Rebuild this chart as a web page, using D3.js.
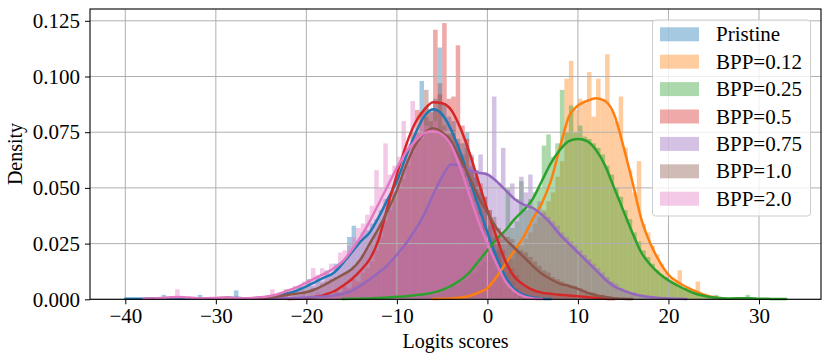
<!DOCTYPE html>
<html>
<head>
<meta charset="utf-8">
<script src="https://cdn.jsdelivr.net/npm/d3@7"></script>
<style>
  body { margin: 0; background: #fff; }
  svg text { font-family: "Liberation Serif", "Times New Roman", serif; fill: #000; }
</style>
</head>
<body>
<svg id="chart"></svg>
<script>
// series
const seriesNames = ["Pristine", "BPP=0.12", "BPP=0.25", "BPP=0.5", "BPP=0.75", "BPP=1.0", "BPP=2.0"];
const seriesColors = ["#1f77b4", "#ff7f0e", "#2ca02c", "#d62728", "#9467bd", "#8c564b", "#e377c2"];

const xTicks = [-40, -30, -20, -10, 0, 10, 20, 30];
const yTicks = [0, 0.025, 0.05, 0.075, 0.1, 0.125];

// histogram densities, bins of 0.5 starting at histStart
const binWidth = 0.5;
const histStart = [-40, -6, -16, -22, -28, -30, -36];
const histPristine = [
  0.0005,0,0,0,0,0,0,0,0.002,0,
  0,0,0,0,0,0,0.002,0,0,0,
  0,0,0,0,0.004,0,0,0,0,0,
  0,0.001,0,0.002,0.002,0.003,0,0.004,0.006,0.005,
  0.009,0.006,0.010,0.008,0.013,0.011,0.016,0.015,0.017,0.028,
  0.033,0.026,0.030,0.031,0.034,0.036,0.040,0.045,0.042,0.049,
  0.052,0.058,0.063,0.070,0.075,0.098,0.082,0.085,0.090,0.113,
  0.088,0.082,0.080,0.072,0.070,0.075,0.060,0.055,0.048,0.040,
  0.033,0.028,0.022,0.016,0.012,0.008,0.005,0.003,0.002,0.001,0.0005,0];
const hist012 = [
  0,0,0,0.0005,0,0.001,0,0.001,0.002,0.002,
  0.003,0.004,0.005,0.007,0.010,0.012,0.015,0.018,0.021,0.024,
  0.027,0.030,0.034,0.037,0.040,0.044,0.048,0.055,0.062,0.099,
  0.107,0.085,0.090,0.088,0.102,0.082,0.099,0.090,0.110,0.085,
  0.080,0.091,0.068,0.058,0.048,0.062,0.034,0.030,0.024,0.020,
  0.016,0.012,0.010,0.008,0.013,0.005,0.004,0.003,0.008,0.002,
  0.001,0.001,0.0005,0];
const hist025 = [
  0,0.0005,0,0,0,0.0005,0,0,0,0.001,
  0,0.001,0,0.001,0.001,0.002,0.001,0.002,0.002,0.003,
  0.002,0.003,0.004,0.004,0.006,0.006,0.008,0.009,0.011,0.012,
  0.015,0.017,0.020,0.022,0.025,0.027,0.050,0.032,0.035,0.053,
  0.040,0.045,0.048,0.050,0.069,0.074,0.064,0.070,0.094,0.075,
  0.087,0.075,0.078,0.073,0.072,0.070,0.068,0.065,0.060,0.056,
  0.050,0.046,0.040,0.036,0.030,0.026,0.022,0.019,0.016,0.013,
  0.011,0.010,0.008,0.007,0.006,0.005,0.004,0.003,0.002,0.002,
  0.001,0.001,0.002,0.001,0.0005,0,0.001,0,0,0.002,
  0.0005,0,0,0,0,0,0,0.0005,0,0];
const hist05 = [
  0,0,0,0,0.001,0,0.002,0.001,0.003,0.002,
  0.004,0.003,0.006,0.005,0.009,0.008,0.012,0.014,0.017,0.022,
  0.028,0.035,0.040,0.048,0.055,0.062,0.068,0.075,0.085,0.084,
  0.086,0.084,0.121,0.092,0.124,0.090,0.091,0.114,0.078,0.072,
  0.064,0.058,0.052,0.046,0.040,0.034,0.028,0.022,0.018,0.014,
  0.011,0.008,0.006,0.005,0.004,0.003,0.003,0.002,0.002,0.002,
  0.002,0.001,0.002,0.001,0.001,0.001,0.001,0,0.001,0,0,0];
const hist075 = [
  0,0,0,0,0,0.0005,0,0.001,0,0.001,
  0.001,0,0.001,0.001,0.001,0.002,0.001,0.002,0.003,0.002,
  0.003,0.002,0.004,0.003,0.005,0.004,0.006,0.007,0.006,0.008,
  0.009,0.011,0.012,0.014,0.016,0.018,0.020,0.023,0.025,0.028,
  0.031,0.035,0.040,0.044,0.048,0.053,0.057,0.060,0.066,0.060,
  0.062,0.058,0.065,0.058,0.065,0.057,0.055,0.091,0.052,0.068,
  0.049,0.052,0.045,0.055,0.048,0.056,0.040,0.044,0.039,0.037,
  0.035,0.033,0.030,0.028,0.026,0.024,0.022,0.020,0.018,0.016,
  0.014,0.012,0.010,0.008,0.007,0.005,0.004,0.003,0.003,0.002,
  0.002,0.001,0.001,0.001,0.0005,0,0.0005,0,0,0];
const hist10 = [
  0,0,0.0015,0,0,0,0,0,0,0,
  0,0,0.002,0.001,0.002,0.0045,0.002,0.003,0.003,0.004,
  0.004,0.005,0.005,0.007,0.008,0.009,0.010,0.011,0.012,0.013,
  0.015,0.017,0.020,0.023,0.026,0.030,0.034,0.038,0.043,0.047,
  0.050,0.054,0.060,0.066,0.070,0.072,0.094,0.080,0.085,0.097,
  0.078,0.074,0.076,0.070,0.065,0.068,0.058,0.055,0.050,0.046,
  0.040,0.037,0.032,0.030,0.028,0.027,0.024,0.022,0.021,0.019,
  0.017,0.015,0.013,0.012,0.010,0.009,0.008,0.007,0.006,0.006,
  0.005,0.004,0.003,0.003,0.002,0.002,0.001,0.001,0.001,0.0005,0,0];
const hist20 = [
  0,0,0,0.0045,0,0,0,0,0,0,
  0,0,0,0.0015,0,0,0,0,0,0,
  0,0,0,0,0.0045,0.001,0.002,0.003,0.004,0.006,
  0.006,0.008,0.009,0.014,0.011,0.014,0.012,0.016,0.015,0.021,
  0.022,0.024,0.028,0.032,0.034,0.038,0.042,0.058,0.050,0.070,
  0.056,0.060,0.064,0.080,0.070,0.089,0.074,0.080,0.078,0.077,
  0.080,0.074,0.076,0.070,0.068,0.064,0.060,0.055,0.050,0.044,
  0.038,0.031,0.026,0.020,0.015,0.010,0.007,0.004,0.002,0.001,
  0.0005,0,0.0005,0];

// kde curves, one value per unit starting at kdeStart
const kdeStart = [-40, -6, -16, -22, -28, -31, -38];
const kdePristine = [
  0.0003,0.0003,0.0003,0.0004,0.0005,0.0005,0.0004,0.0004,0.0005,0.0004,
  0.0004,0.0005,0.0006,0.0005,0.0005,0.0007,0.0012,0.0018,0.0027,0.004,
  0.0058,0.0078,0.0098,0.0118,0.016,0.021,0.026,0.030,0.037,0.045,
  0.053,0.064,0.074,0.082,0.0853,0.083,0.076,0.066,0.054,0.042,
  0.030,0.019,0.010,0.0045,0.002,0.0008,0.0003,0.0001];
const kde012 = [
  0.0001,0.0002,0.0004,0.0007,0.0015,0.003,0.005,0.010,0.016,0.022,
  0.028,0.036,0.043,0.053,0.068,0.082,0.087,0.089,0.0902,0.089,
  0.083,0.069,0.053,0.036,0.025,0.017,0.011,0.0078,0.0055,0.0036,
  0.002,0.0009,0.0003];
const kde025 = [
  0.0001,0.0002,0.0003,0.0004,0.0006,0.0008,0.0011,0.0014,0.0018,0.0023,
  0.003,0.0042,0.006,0.0085,0.012,0.017,0.022,0.027,0.031,0.036,
  0.040,0.045,0.053,0.061,0.067,0.071,0.072,0.071,0.067,0.060,
  0.050,0.040,0.030,0.021,0.0155,0.0115,0.0085,0.0062,0.0042,0.0025,
  0.0015,0.0008,0.0005,0.0004,0.0005,0.0005,0.0003,0.0002,0.0001,0.0001];
const kde05 = [
  0.0001,0.0002,0.0004,0.001,0.002,0.0035,0.006,0.009,0.013,0.018,
  0.027,0.042,0.056,0.069,0.079,0.085,0.0885,0.088,0.085,0.077,
  0.066,0.053,0.040,0.028,0.017,0.010,0.0065,0.0042,0.003,0.0025,
  0.002,0.0017,0.0014,0.001,0.0006,0.0003,0.0001];
const kde075 = [
  0.0002,0.0002,0.0002,0.0003,0.0003,0.0004,0.0005,0.0006,0.0008,0.001,
  0.0013,0.0017,0.0025,0.0038,0.0062,0.009,0.012,0.0155,0.020,0.025,
  0.031,0.038,0.047,0.055,0.0605,0.060,0.058,0.0568,0.056,0.053,
  0.049,0.045,0.0425,0.041,0.038,0.034,0.029,0.025,0.021,0.017,
  0.013,0.009,0.0058,0.004,0.0025,0.0016,0.001,0.0006,0.0004,0.0002,
  0.0001];
const kde10 = [
  0.0002,0.0004,0.0006,0.0005,0.0004,0.0005,0.0006,0.0009,0.0014,0.002,
  0.0026,0.0032,0.0045,0.0065,0.0087,0.011,0.0135,0.018,0.025,0.032,
  0.040,0.049,0.060,0.069,0.0745,0.0767,0.075,0.071,0.063,0.055,
  0.046,0.039,0.032,0.027,0.023,0.019,0.015,0.0115,0.009,0.007,
  0.006,0.0047,0.003,0.0018,0.001,0.0005,0.0002,0.0001];
const kde20 = [
  0.0003,0.0004,0.0006,0.0009,0.001,0.0008,0.0005,0.0005,0.0006,0.0007,
  0.0006,0.0005,0.0006,0.0009,0.0015,0.0025,0.004,0.0055,0.0075,0.0095,
  0.0115,0.0138,0.017,0.022,0.028,0.035,0.043,0.051,0.059,0.066,
  0.071,0.0745,0.0755,0.074,0.069,0.059,0.047,0.035,0.025,0.016,
  0.008,0.0035,0.0013,0.0004,0.0001];

const histData = [histPristine, hist012, hist025, hist05, hist075, hist10, hist20];
const kdeData = [kdePristine, kde012, kde025, kde05, kde075, kde10, kde20];

const W = 831, H = 362;
const plot = {left: 90, right: 821, top: 9, bottom: 299.3};

const svg = d3.select('#chart').attr('width', W).attr('height', H);

const x = d3.scaleLinear().domain([-43.9, 36.85]).range([plot.left, plot.right]);
const y = d3.scaleLinear().domain([0, 0.1303]).range([plot.bottom, plot.top]);

// bars
const barW = x(binWidth) - x(0);
histData.forEach(function(vals, s) {
  const bins = vals.map((v, i) => ({x0: histStart[s] + i * binWidth, v: v})).filter(d => d.v > 0);
  svg.append('g').selectAll('rect')
    .data(bins)
    .enter().append('rect')
      .attr('x', d => x(d.x0))
      .attr('width', barW)
      .attr('y', d => y(d.v))
      .attr('height', d => y(0) - y(d.v))
      .attr('fill', seriesColors[s])
      .attr('fill-opacity', 0.4);
});

// grid (above the bars, below lines, like matplotlib)
const grid = svg.append('g');
grid.selectAll('.gx').data(xTicks).enter().append('line')
  .attr('x1', d => x(d)).attr('x2', d => x(d))
  .attr('y1', plot.top).attr('y2', plot.bottom)
  .attr('stroke', '#b0b0b0').attr('stroke-width', 1);
grid.selectAll('.gy').data(yTicks).enter().append('line')
  .attr('x1', plot.left).attr('x2', plot.right)
  .attr('y1', d => y(d)).attr('y2', d => y(d))
  .attr('stroke', '#b0b0b0').attr('stroke-width', 1);

// kde lines
const line = d3.line()
  .x(d => x(d[0]))
  .y(d => y(d[1]))
  .curve(d3.curveMonotoneX);
kdeData.forEach(function(vals, s) {
  const pts = vals.map((v, i) => [kdeStart[s] + i, v]);
  svg.append('path')
    .datum(pts)
    .attr('d', line)
    .attr('fill', 'none')
    .attr('stroke', seriesColors[s])
    .attr('stroke-width', 2.5)
    .attr('stroke-linejoin', 'round')
    .attr('stroke-linecap', 'round');
});

// axes
const fmtX = d => (d < 0 ? '\u2212' + Math.abs(d) : '' + d);
const xAxis = d3.axisBottom(x).tickValues(xTicks).tickFormat(fmtX).tickSize(5).tickPadding(4);
const yAxis = d3.axisLeft(y).tickValues(yTicks).tickFormat(d3.format('.3f')).tickSize(5).tickPadding(5);

const gx = svg.append('g').attr('transform', `translate(0,${plot.bottom})`).call(xAxis);
const gy = svg.append('g').attr('transform', `translate(${plot.left},0)`).call(yAxis);
[gx, gy].forEach(g => {
  g.select('.domain').remove();
  g.selectAll('line').attr('stroke', '#000').attr('stroke-width', 1);
  g.selectAll('text').attr('font-size', 21).attr('font-family', '"Liberation Serif", serif');
});

// frame
svg.append('rect')
  .attr('x', plot.left).attr('y', plot.top)
  .attr('width', plot.right - plot.left).attr('height', plot.bottom - plot.top)
  .attr('fill', 'none').attr('stroke', '#000').attr('stroke-width', 1.1);

// axis labels
svg.append('text')
  .attr('x', (plot.left + plot.right) / 2).attr('y', 348)
  .attr('text-anchor', 'middle').attr('font-size', 20)
  .text('Logits scores');
svg.append('text')
  .attr('transform', 'translate(22,154) rotate(-90)')
  .attr('text-anchor', 'middle').attr('font-size', 20)
  .text('Density');

// legend
const leg = svg.append('g');
leg.append('rect')
  .attr('x', 652.5).attr('y', 20).attr('width', 158).attr('height', 196)
  .attr('rx', 3).attr('fill', '#fff').attr('fill-opacity', 0.8)
  .attr('stroke', '#cccccc').attr('stroke-width', 1);
seriesNames.forEach(function(name, i) {
  const cy = 34.3 + i * 27.4;
  leg.append('rect')
    .attr('x', 660).attr('y', cy - 7).attr('width', 39).attr('height', 14)
    .attr('fill', seriesColors[i]).attr('fill-opacity', 0.4);
  leg.append('text')
    .attr('x', 716).attr('y', cy + 7)
    .attr('font-size', 21)
    .text(name);
});
</script>
</body>
</html>
